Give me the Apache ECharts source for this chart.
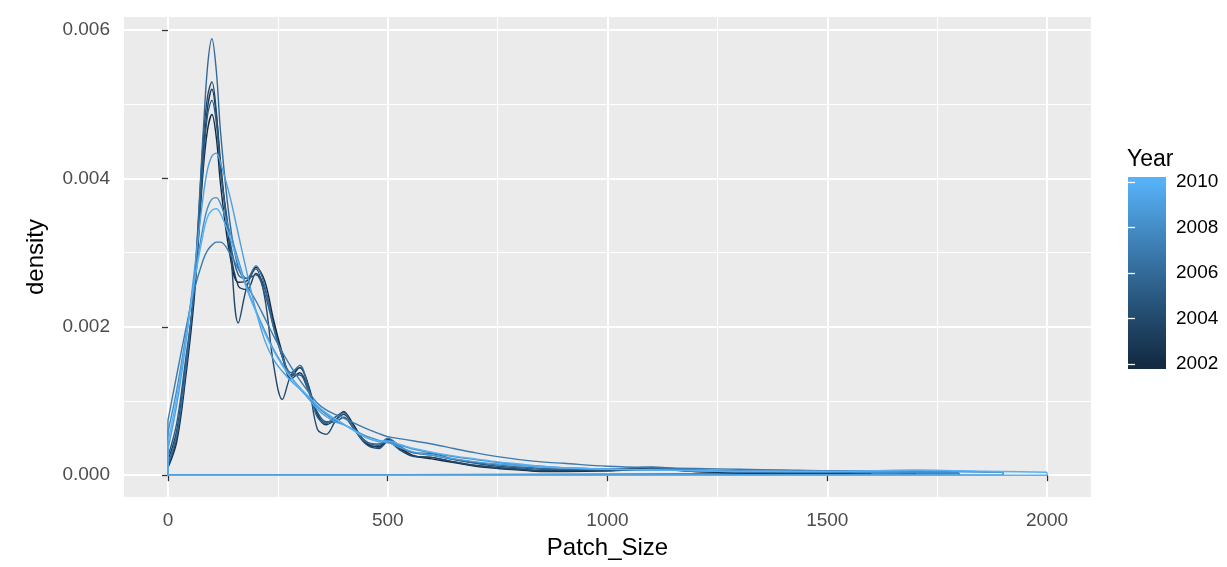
<!DOCTYPE html>
<html><head><meta charset="utf-8">
<script src="https://cdn.jsdelivr.net/npm/echarts@6/dist/echarts.min.js"></script>
<style>html,body{margin:0;padding:0;background:#fff}#c{width:1227px;height:567px}</style>
</head><body><div id="c"></div>
<script>
// ---- data (density values in units of 1e-3) ----
const years = [2002, 2003, 2004, 2005, 2006, 2007, 2008, 2009, 2010];
const xGrid = [0,20,40,60,80,90,100,110,120,140,160,180,200,220,240,260,280,300,320,340,360,380,400,420,450,480,500,530,560,600,650,700,750,800,850,900,1000,1100,1200,1300,1400,1500,1600,1700,1800,1900,2000];
const d2002 = [0.10,0.45,1.30,2.40,4.10,4.65,4.86,4.55,3.90,3.00,2.60,2.62,2.80,2.62,2.10,1.65,1.33,1.45,1.20,0.82,0.70,0.78,0.85,0.70,0.44,0.38,0.48,0.36,0.26,0.22,0.17,0.12,0.09,0.07,0.05,0.05,0.06,0.09,0.05,0.03,0.03];
const d2003 = [0.20,0.60,1.45,2.50,4.30,4.95,5.20,4.85,4.20,3.10,2.55,2.50,2.72,2.52,2.05,1.60,1.30,1.38,1.15,0.80,0.68,0.74,0.82,0.66,0.43,0.38,0.47,0.35,0.26,0.24,0.18,0.13,0.10,0.08,0.06,0.07,0.06,0.08,0.05,0.04,0.03,0.03,0.02];
const d2004 = [0.12,0.50,1.40,2.55,4.50,5.10,5.30,4.90,4.10,3.20,2.05,2.55,2.78,2.40,1.50,1.02,1.35,1.45,1.20,0.62,0.55,0.72,0.86,0.66,0.42,0.36,0.45,0.33,0.25,0.24,0.18,0.13,0.10,0.08,0.06,0.06,0.07,0.10,0.06,0.04,0.03,0.03];
const d2005 = [0.25,0.70,1.55,2.50,4.20,4.85,5.05,4.75,4.10,3.20,2.70,2.65,2.70,2.45,2.00,1.60,1.35,1.35,1.12,0.85,0.72,0.72,0.78,0.65,0.46,0.40,0.47,0.37,0.30,0.27,0.21,0.16,0.12,0.10,0.08,0.08,0.07,0.08,0.06,0.05,0.05,0.04,0.04,0.03,0.03];
const d2006 = [0.15,0.55,1.40,2.60,4.60,5.50,5.88,5.45,4.60,3.45,2.80,2.65,2.82,2.55,2.00,1.60,1.38,1.48,1.15,0.78,0.70,0.78,0.84,0.66,0.45,0.42,0.50,0.38,0.30,0.29,0.22,0.17,0.14,0.11,0.09,0.08,0.08,0.11,0.07,0.05,0.05,0.04,0.03,0.03];
const d2007 = [0.74,1.35,1.95,2.50,2.90,3.03,3.10,3.14,3.14,3.00,2.78,2.55,2.35,2.12,1.88,1.66,1.46,1.28,1.12,0.97,0.88,0.82,0.77,0.71,0.63,0.56,0.52,0.49,0.46,0.42,0.36,0.30,0.25,0.21,0.18,0.16,0.12,0.10,0.09,0.08,0.07,0.06,0.06,0.05,0.05,0.04];
const d2008 = [0.58,1.15,1.85,2.65,3.35,3.60,3.72,3.74,3.65,3.30,2.90,2.52,2.22,1.95,1.70,1.50,1.32,1.18,1.04,0.92,0.82,0.74,0.68,0.62,0.53,0.47,0.44,0.40,0.35,0.30,0.25,0.21,0.17,0.14,0.12,0.10,0.08,0.07,0.07,0.06,0.05,0.05,0.04,0.04,0.03];
const d2009 = [0.35,0.95,1.75,2.75,3.75,4.12,4.30,4.34,4.20,3.78,3.25,2.72,2.22,1.82,1.56,1.40,1.27,1.16,1.03,0.89,0.79,0.72,0.68,0.62,0.51,0.45,0.44,0.37,0.31,0.27,0.22,0.18,0.15,0.13,0.11,0.10,0.08,0.07,0.06,0.05,0.05,0.05,0.05,0.06,0.05,0.04];
const d2010 = [0.45,1.05,1.80,2.60,3.25,3.48,3.57,3.59,3.52,3.22,2.86,2.50,2.20,1.92,1.68,1.48,1.31,1.18,1.06,0.94,0.84,0.76,0.69,0.61,0.51,0.46,0.46,0.41,0.36,0.31,0.26,0.22,0.18,0.15,0.12,0.10,0.08,0.07,0.06,0.05,0.05,0.05,0.06,0.07,0.06,0.05,0.04];
const densityByYear = [d2002, d2003, d2004, d2005, d2006, d2007, d2008, d2009, d2010];
const xTicks = [0, 500, 1000, 1500, 2000];
const xMinorTicks = [250, 750, 1250, 1750];
const yTicks = [0, 0.002, 0.004, 0.006];
const yMinorTicks = [0.001, 0.003, 0.005];
const yearTicks = [2002, 2004, 2006, 2008, 2010];
const lowColor = '#132B43', highColor = '#56B1F7';

// ---- ggplot-like Lab colour gradient ----
function hex2rgb(h){return [1,3,5].map(i=>parseInt(h.substr(i,2),16)/255);}
function lin(c){return c<=0.04045?c/12.92:Math.pow((c+0.055)/1.055,2.4);}
function unlin(c){return c<=0.0031308?12.92*c:1.055*Math.pow(c,1/2.4)-0.055;}
const WP=[0.95047,1,1.08883];
function rgb2lab(rgb){
  const [r,g,b]=rgb.map(lin);
  const X=(0.4124564*r+0.3575761*g+0.1804375*b)/WP[0];
  const Y=(0.2126729*r+0.7151522*g+0.0721750*b)/WP[1];
  const Z=(0.0193339*r+0.1191920*g+0.9503041*b)/WP[2];
  const f=t=>t>216/24389?Math.cbrt(t):(24389/27*t+16)/116;
  const fx=f(X),fy=f(Y),fz=f(Z);
  return [116*fy-16,500*(fx-fy),200*(fy-fz)];
}
function lab2hex(lab){
  const fy=(lab[0]+16)/116, fx=fy+lab[1]/500, fz=fy-lab[2]/200;
  const inv=t=>{const t3=t*t*t;return t3>216/24389?t3:(116*t-16)/(24389/27);};
  const X=inv(fx)*WP[0],Y=inv(fy)*WP[1],Z=inv(fz)*WP[2];
  const r= 3.2404542*X-1.5371385*Y-0.4985314*Z;
  const g=-0.9692660*X+1.8760108*Y+0.0415560*Z;
  const b= 0.0556434*X-0.2040259*Y+1.0572252*Z;
  return '#'+[r,g,b].map(c=>Math.round(Math.max(0,Math.min(1,unlin(c)))*255).toString(16).padStart(2,'0')).join('');
}
const labLo = rgb2lab(hex2rgb(lowColor)), labHi = rgb2lab(hex2rgb(highColor));
const yrMin = Math.min(...years), yrMax = Math.max(...years);
function colorOf(y){const t=(y-yrMin)/(yrMax-yrMin);return lab2hex(labLo.map((v,i)=>v+(labHi[i]-v)*t));}

// ---- scales (ggplot 5% expansion) ----
const allX = [], allY = [];
densityByYear.forEach(a=>{a.forEach((v,i)=>{allX.push(xGrid[i]);allY.push(v*1e-3);});});
const xLo = Math.min(...allX), xHi = Math.max(...allX), xPad = 0.05*(xHi-xLo);
const yHi = Math.max(...allY), yPad = 0.05*yHi;
const barPad = (yrMax-yrMin)*0.5/19;
const barMin = yrMin-barPad, barMax = yrMax+barPad;

const FONT = '"Liberation Sans", Arial, sans-serif';
const series = [];
years.forEach((yr, k) => {
  const arr = densityByYear[k];
  const pts = arr.map((v,i)=>[xGrid[i], v*1e-3]);
  const col = colorOf(yr);
  series.push({type:'line', name:String(yr), xAxisIndex:0, yAxisIndex:0, data:pts, smooth:0.35,
    showSymbol:false, symbol:'none', lineStyle:{color:col, width:1.4}, z:3+k, silent:true});
  const first = pts[0], last = pts[pts.length-1];
  series.push({type:'line', xAxisIndex:0, yAxisIndex:0, smooth:false, showSymbol:false, symbol:'none',
    data:[[last[0], last[1]],[last[0],0],[first[0],0],[first[0],first[1]]],
    lineStyle:{color:col, width:1.4}, z:3+k, silent:true});
});
const stops = years.map(y=>({offset:(y-barMin)/(barMax-barMin), color:colorOf(y)}));
series.push({type:'custom', xAxisIndex:2, yAxisIndex:2, data:[[0, yrMin]], silent:true, z:2,
  renderItem:(params, api)=>{
    const p0 = api.coord([0, barMin]), p1 = api.coord([1, barMax]);
    return {type:'rect', shape:{x:p0[0], y:p1[1], width:p1[0]-p0[0], height:p0[1]-p1[1]},
      style:{fill:new echarts.graphic.LinearGradient(0,1,0,0, stops)}};
  }});

const chart = echarts.init(document.getElementById('c'), null, {renderer:'canvas'});
chart.setOption({
  animation:false,
  backgroundColor:'#ffffff',
  textStyle:{fontFamily:FONT},
  title:{text:'Year', left:1127, top:148, padding:0,
    textStyle:{fontSize:23, fontWeight:'normal', color:'#000', fontFamily:FONT}},
  grid:[
    {left:124, top:17, width:967, height:480, show:true, backgroundColor:'#EBEBEB', borderWidth:0},
    {left:1128, top:177, width:38, height:192, show:false}
  ],
  xAxis:[
    {type:'value', gridIndex:0, min:xLo-xPad, max:xHi+xPad, position:'bottom',
      axisLine:{show:false},
      axisTick:{show:true, length:6, customValues:xTicks, lineStyle:{color:'#333333', width:1.3}},
      axisLabel:{customValues:xTicks, margin:14, fontSize:19, color:'#4D4D4D', fontFamily:FONT, formatter:v=>String(v)},
      splitLine:{show:true, lineStyle:{color:'#FFFFFF', width:2}},
      name:'Patch_Size', nameLocation:'middle', nameGap:39,
      nameTextStyle:{fontSize:24, color:'#000', fontFamily:FONT}},
    {type:'value', gridIndex:0, min:xLo-xPad, max:xHi+xPad, position:'bottom',
      axisLine:{show:false}, axisTick:{show:false, customValues:xMinorTicks},
      axisLabel:{show:false, customValues:xMinorTicks},
      splitLine:{show:true, lineStyle:{color:'#FFFFFF', width:1}}},
    {type:'value', gridIndex:1, min:0, max:1, show:false}
  ],
  yAxis:[
    {type:'value', gridIndex:0, min:-yPad, max:yHi+yPad, position:'left',
      axisLine:{show:false},
      axisTick:{show:true, length:6, customValues:yTicks, lineStyle:{color:'#333333', width:1.3}},
      axisLabel:{customValues:yTicks, margin:14, fontSize:19, color:'#4D4D4D', fontFamily:FONT, formatter:v=>v.toFixed(3)},
      splitLine:{show:true, lineStyle:{color:'#FFFFFF', width:2}},
      name:'density', nameLocation:'middle', nameRotate:90, nameGap:76,
      nameTextStyle:{fontSize:24, color:'#000', fontFamily:FONT}},
    {type:'value', gridIndex:0, min:-yPad, max:yHi+yPad, position:'left',
      axisLine:{show:false}, axisTick:{show:false, customValues:yMinorTicks},
      axisLabel:{show:false, customValues:yMinorTicks},
      splitLine:{show:true, lineStyle:{color:'#FFFFFF', width:1}}},
    {type:'value', gridIndex:1, min:barMin, max:barMax, position:'right', z:10,
      axisLine:{show:false},
      axisTick:{show:true, inside:true, length:7, customValues:yearTicks, lineStyle:{color:'#FFFFFF', width:1.3}},
      axisLabel:{customValues:yearTicks, margin:10, fontSize:19, color:'#000', fontFamily:FONT, formatter:v=>String(v)},
      splitLine:{show:false}},
    {type:'value', gridIndex:1, min:barMin, max:barMax, position:'left', z:10,
      axisLine:{show:false},
      axisTick:{show:true, inside:true, length:7, customValues:yearTicks, lineStyle:{color:'#FFFFFF', width:1.3}},
      axisLabel:{show:false, customValues:yearTicks},
      splitLine:{show:false}}
  ],
  series:series
});
</script></body></html>
